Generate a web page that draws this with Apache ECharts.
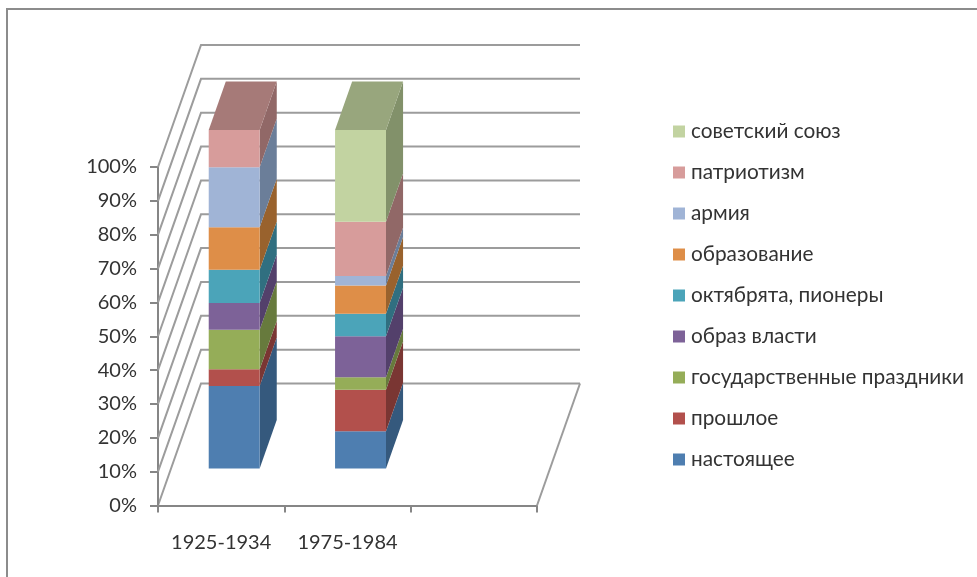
<!DOCTYPE html>
<html>
<head>
<meta charset="utf-8">
<style>
  html, body { margin: 0; padding: 0; background: #fff; }
  #chart { width: 977px; height: 577px; }
</style>
<script src="https://cdn.jsdelivr.net/npm/echarts@6/dist/echarts.min.js"></script>
</head>
<body>
<div id="chart"></div>
<script>
  const categories = ['1925-1934', '1975-1984', ''];
  const yTicks = [0, 10, 20, 30, 40, 50, 60, 70, 80, 90, 100];

  // bottom to top of the stack
  const seriesNames = [
    'настоящее',
    'прошлое',
    'государственные праздники',
    'образ власти',
    'октябрята, пионеры',
    'образование',
    'армия',
    'патриотизм',
    'советский союз',
  ];
  const nastoyashchee = [24.4, 11];
  const proshloe = [4.9, 12.3];
  const prazdniki = [11.7, 3.7];
  const obrazVlasti = [7.9, 12.1];
  const oktyabryata = [9.8, 6.6];
  const obrazovanie = [12.6, 8.4];
  const armiya = [17.7, 2.8];
  const patriotizm = [11, 16];
  const sovetskiySoyuz = [0, 27.1];
  const seriesValues = [
    nastoyashchee, proshloe, prazdniki, obrazVlasti, oktyabryata,
    obrazovanie, armiya, patriotizm, sovetskiySoyuz,
  ];

  const frontColors = ['#4e7eb0', '#b2504c', '#95ad58', '#7d6298', '#4ba4b9', '#de8e48', '#a0b4d6', '#d79c9b', '#c2d3a1'];
  const sideColors = ['#35597d', '#7a3633', '#677a3d', '#53406b', '#306f80', '#99622d', '#6b7e99', '#916867', '#82916a'];
  const topColors = ['#4e7eb0', '#b2504c', '#95ad58', '#7d6298', '#4ba4b9', '#de8e48', '#a0b4d6', '#a67a78', '#98a67d'];

  // fake 3d: how far the back wall is shifted from the axis plane
  const depthX = 43;
  const depthY = -122;
  const barFront = 0.303;
  const barBack = 0.7;
  const gapRatio = 2.48;

  const chart = echarts.init(document.getElementById('chart'));

  function renderGridLine(params, api) {
    const p = api.coord([0, api.value(0)]);
    const x0 = params.coordSys.x;
    const x1 = x0 + params.coordSys.width;
    const shapes = [{
      type: 'polyline',
      shape: { points: [[x0, p[1]], [x0 + depthX, p[1] + depthY], [x1 + depthX, p[1] + depthY]] },
      style: { stroke: '#9c9c9c', lineWidth: 2, fill: null },
    }];
    if (api.value(0) === 0) {
      const top = api.coord([0, yTicks[yTicks.length - 1]]);
      shapes.push({
        type: 'line',
        shape: { x1: x1, y1: p[1], x2: x1 + depthX, y2: p[1] + depthY },
        style: { stroke: '#9c9c9c', lineWidth: 2 },
      });
      // left wall edge, same place as the value axis
      shapes.push({
        type: 'line',
        shape: { x1: x0, y1: p[1], x2: x0, y2: top[1] },
        style: { stroke: '#868686', lineWidth: 2 },
      });
    }
    return { type: 'group', children: shapes };
  }

  function makeRenderBar(idx) {
    return function (params, api) {
      const cat = api.value(0);
      const lo = api.value(1);
      const hi = api.value(2);
      if (hi <= lo) return { type: 'group', children: [] };
      const w = api.size([1, 0])[0] / gapRatio;
      const a = api.coord([cat, lo]);
      const b = api.coord([cat, hi]);
      const left = a[0] - w / 2 + depthX * barFront;
      const right = left + w;
      const yLo = a[1] + depthY * barFront;
      const yHi = b[1] + depthY * barFront;
      const dx = depthX * (barBack - barFront);
      const dy = depthY * (barBack - barFront);
      const children = [
        {
          type: 'polygon',
          shape: { points: [[right, yLo], [right + dx, yLo + dy], [right + dx, yHi + dy], [right, yHi]] },
          style: { fill: sideColors[idx] },
        },
        {
          type: 'rect',
          shape: { x: left, y: yHi, width: w, height: yLo - yHi },
          style: { fill: frontColors[idx] },
        },
      ];
      if (hi >= 99.99) {
        children.push({
          type: 'polygon',
          shape: { points: [[left, yHi], [left + dx, yHi + dy], [right + dx, yHi + dy], [right, yHi]] },
          style: { fill: topColors[idx] },
        });
      }
      return { type: 'group', children: children };
    };
  }

  const running = categories.map(() => 0);
  const barSeries = seriesNames.map((name, idx) => {
    const data = seriesValues[idx].map((v, cat) => {
      const lo = running[cat];
      running[cat] = lo + v;
      return [cat, lo, running[cat]];
    });
    return {
      name: name,
      type: 'custom',
      renderItem: makeRenderBar(idx),
      data: data,
      encode: { x: 0, y: [1, 2] },
      itemStyle: { color: frontColors[idx] },
      silent: true,
      z: 5,
    };
  });

  chart.setOption({
    animation: false,
    backgroundColor: '#fff',
    textStyle: { fontFamily: 'Lato, "Open Sans", sans-serif' },
    grid: { left: 158, top: 167, width: 379, height: 338.5 },
    graphic: [
      {
        type: 'polyline',
        silent: true,
        shape: { points: [[7, 577], [7, 9], [977, 9]] },
        style: { stroke: '#8c8c8c', lineWidth: 2, fill: null },
      },
    ],
    legend: {
      orient: 'vertical',
      left: 673,
      top: 121,
      padding: 0,
      itemWidth: 12,
      itemHeight: 12,
      itemGap: 20,
      icon: 'rect',
      selectedMode: false,
      data: seriesNames.slice().reverse(),
      textStyle: { fontSize: 20.8, color: '#333', padding: [0, 0, 0, 1], height: 20, lineHeight: 20 },
    },
    xAxis: {
      type: 'category',
      data: categories,
      axisLine: { show: true, lineStyle: { color: '#868686', width: 2 } },
      axisTick: { show: true, interval: 0, length: 7, lineStyle: { color: '#868686', width: 2 } },
      axisLabel: { interval: 0, fontSize: 20, color: '#333', margin: 27 },
      splitLine: { show: false },
    },
    yAxis: {
      type: 'value',
      min: yTicks[0],
      max: yTicks[yTicks.length - 1],
      interval: 10,
      axisLine: { show: true, lineStyle: { color: '#868686', width: 2 } },
      axisTick: { show: true, length: 8, lineStyle: { color: '#868686', width: 2 } },
      axisLabel: { fontSize: 20, color: '#333', margin: 21, formatter: '{value}%' },
      splitLine: { show: false },
    },
    series: [
      {
        type: 'custom',
        renderItem: renderGridLine,
        data: yTicks.map((v) => [v]),
        encode: { y: 0 },
        silent: true,
        z: 1,
      },
    ].concat(barSeries),
  });
</script>
</body>
</html>
